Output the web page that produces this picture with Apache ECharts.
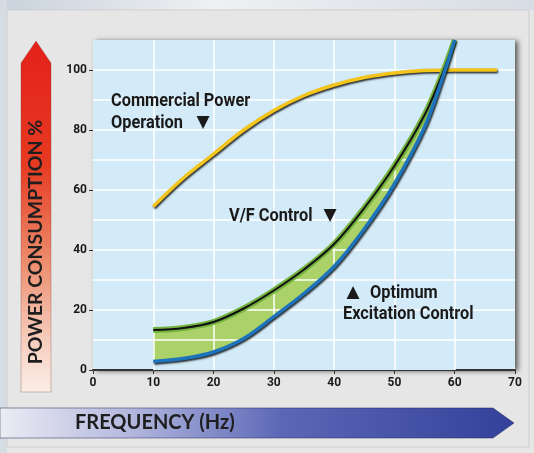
<!DOCTYPE html>
<html><head><meta charset="utf-8">
<script src="https://cdn.jsdelivr.net/npm/echarts@6/dist/echarts.min.js"></script>
<style>html,body{margin:0;padding:0;background:#e5e5e5;}#c{width:534px;height:453px;}</style>
</head><body><div id="c"></div>
<script>
// ---- data ----
const freqX      = [10, 15, 20, 25, 30, 35, 40, 45, 50, 55, 58, 60];
const vfControl  = [13.3, 14, 16, 20.5, 26.5, 33.5, 42, 54, 68, 85, 99, 110];
const optimum    = [2.8, 3.8, 6, 10.5, 17.8, 25.5, 34.5, 47, 62, 81, 97.5, 110];
const commercialX = [10, 15, 20, 25, 30, 35, 40, 45, 50, 55, 60, 67];
const commercial  = [54.5, 64, 72, 80, 86.5, 91.5, 95, 97.5, 99, 99.8, 100, 100];
const xTickValues = [0, 10, 20, 30, 40, 50, 60, 70];
const yTickValues = [0, 20, 40, 60, 80, 100];
const gridXValues = [10, 20, 30, 40, 50, 60];
const gridYValues = [10, 20, 30, 40, 50, 60, 70, 80, 90, 100];
const yTitle = 'POWER CONSUMPTION %';
const xTitle = 'FREQUENCY (Hz)';

const pairs = (xs, ys) => xs.map((x, i) => [x, ys[i]]);
const PLOT_BG = '#d3ebf8';
const SMOOTH = 0.35;

const chart = echarts.init(document.getElementById('c'), null, {renderer: 'canvas'});
const tickFont = {fontFamily: 'Roboto', fontWeight: 'bold', fontSize: 12, color: '#1a1a1a'};
const annBase = {fontFamily: 'Roboto', fontWeight: 'bold', fontSize: 19, fill: '#1a1a1a', align: 'left', verticalAlign: 'middle'};
const triFont = {fontFamily: 'DejaVu Sans', fontSize: 17, fill: '#1a1a1a', align: 'center', verticalAlign: 'middle'};
const ann = (text, x, y) => ({type: 'text', z: 10, x: x, y: y, scaleX: 0.86, style: Object.assign({text: text}, annBase)});
const tri = (text, x, y) => ({type: 'text', z: 10, x: x, y: y, style: Object.assign({text: text}, triFont)});

chart.setOption({
  animation: false,
  backgroundColor: '#e6e6e6',
  grid: {
    left: 93, right: 19, top: 40, bottom: 83,
    show: true, backgroundColor: PLOT_BG, borderWidth: 0,
    shadowColor: 'rgba(0,0,0,0.6)', shadowBlur: 5, shadowOffsetX: 3, shadowOffsetY: 1
  },
  xAxis: {
    type: 'value', min: 0, max: 70, interval: 10,
    axisLine: {show: true, lineStyle: {color: '#333', width: 2}},
    axisTick: {show: true, length: 4, lineStyle: {color: '#333'}},
    axisLabel: Object.assign({margin: 7, customValues: xTickValues}, tickFont),
    splitLine: {show: false}
  },
  yAxis: {
    type: 'value', min: 0, max: 110, interval: 20,
    axisLine: {show: false},
    axisTick: {show: true, length: 4, customValues: yTickValues, lineStyle: {color: '#333'}},
    axisLabel: Object.assign({margin: 6, customValues: yTickValues}, tickFont),
    splitLine: {show: false}
  },
  series: [
    // green band: fill under V/F, then cover everything under the optimum curve with the plot colour
    {type: 'line', name: 'band', z: 1, data: pairs(freqX, vfControl), smooth: SMOOTH, symbol: 'none', silent: true,
     lineStyle: {opacity: 0}, areaStyle: {color: '#abd268', opacity: 1}},
    {type: 'line', name: 'cover', z: 1, data: pairs(freqX, optimum), smooth: SMOOTH, symbol: 'none', silent: true,
     lineStyle: {opacity: 0}, areaStyle: {color: PLOT_BG, opacity: 1}},
    // grid lines
    {type: 'line', name: 'grid', z: 2, data: [[0, 0]], symbol: 'none', silent: true, lineStyle: {opacity: 0},
     markLine: {silent: true, z: 2, symbol: ['none', 'none'], label: {show: false}, animation: false,
       lineStyle: {color: '#ffffff', width: 1.5, type: 'solid', opacity: 1},
       data: gridXValues.map(v => ({xAxis: v})).concat(gridYValues.map(v => ({yAxis: v})))}},
    {type: 'line', name: 'Commercial Power Operation', z: 3, data: pairs(commercialX, commercial), smooth: SMOOTH, symbol: 'none',
     lineStyle: {color: '#f3c41c', width: 3.5, shadowColor: 'rgba(0,0,0,0.85)', shadowBlur: 2, shadowOffsetX: 1, shadowOffsetY: 1.5}},
    {type: 'line', name: 'V/F outline', z: 3, data: pairs(freqX, vfControl), smooth: SMOOTH, symbol: 'none',
     lineStyle: {color: '#74b23e', width: 6}},
    {type: 'line', name: 'V/F Control', z: 3, data: pairs(freqX, vfControl), smooth: SMOOTH, symbol: 'none',
     lineStyle: {color: '#111', width: 2}},
    {type: 'line', name: 'Optimum Excitation Control', z: 3, data: pairs(freqX, optimum), smooth: SMOOTH, symbol: 'none',
     lineStyle: {color: '#1d74bd', width: 3.5, shadowColor: 'rgba(0,0,0,0.85)', shadowBlur: 2, shadowOffsetX: 1, shadowOffsetY: 1.5}}
  ],
  graphic: [
    // photo strip at the top and panel frame (behind everything)
    {type: 'rect', z: -10, shape: {x: 0, y: 0, width: 534, height: 10},
     style: {fill: new echarts.graphic.LinearGradient(0, 0, 1, 0, [
       {offset: 0, color: '#c9d2dc'}, {offset: 0.4, color: '#eef0f2'}, {offset: 1, color: '#d7dde4'}])}},
    {type: 'rect', z: -10, shape: {x: 0, y: 0, width: 7, height: 453}, style: {fill: '#d5dce4'}},
    {type: 'rect', z: -10, shape: {x: 7, y: 10, width: 522, height: 437}, style: {fill: '#e6e6e6', stroke: '#cfcfcf', lineWidth: 1}},
    // y-axis arrow
    {type: 'polygon', z: 1, shape: {points: [[21, 63], [36, 41], [51, 63], [51, 392], [21, 392]]},
     style: {fill: new echarts.graphic.LinearGradient(0, 0, 0, 1, [
       {offset: 0, color: '#e4201a'}, {offset: 0.35, color: '#e63a22'}, {offset: 0.62, color: '#ec8a6a'},
       {offset: 0.85, color: '#f6cdbd'}, {offset: 1, color: '#fbeee8'}]), stroke: 'rgba(120,60,50,0.3)', lineWidth: 1}},
    {type: 'text', z: 2, x: 36, y: 242, rotation: Math.PI / 2,
     style: {text: yTitle, fontFamily: 'Lato', fontWeight: 'bold', fontSize: 19.5, fill: '#1e1e1e', align: 'center', verticalAlign: 'middle'}},
    // x-axis arrow
    {type: 'polygon', z: 1, shape: {points: [[0, 408], [493, 408], [514, 423], [493, 438], [0, 438]]},
     style: {fill: new echarts.graphic.LinearGradient(0, 0, 1, 0, [
       {offset: 0, color: '#ececf4'}, {offset: 0.25, color: '#b4b8de'}, {offset: 0.55, color: '#5b67b6'},
       {offset: 1, color: '#33419a'}]), stroke: 'rgba(40,40,90,0.5)', lineWidth: 1}},
    {type: 'text', z: 2, x: 75, y: 423,
     style: {text: xTitle, fontFamily: 'Lato', fontWeight: 'bold', fontSize: 20, fill: '#1e1e1e', align: 'left', verticalAlign: 'middle'}},
    // annotations
    ann('Commercial Power', 111, 101),
    ann('Operation', 111, 123),
    tri('▼', 203, 123),
    ann('V/F Control', 229, 216),
    tri('▼', 330, 216),
    tri('▲', 353, 293),
    ann('Optimum', 370, 293),
    ann('Excitation Control', 343, 314)
  ]
});
</script></body></html>
